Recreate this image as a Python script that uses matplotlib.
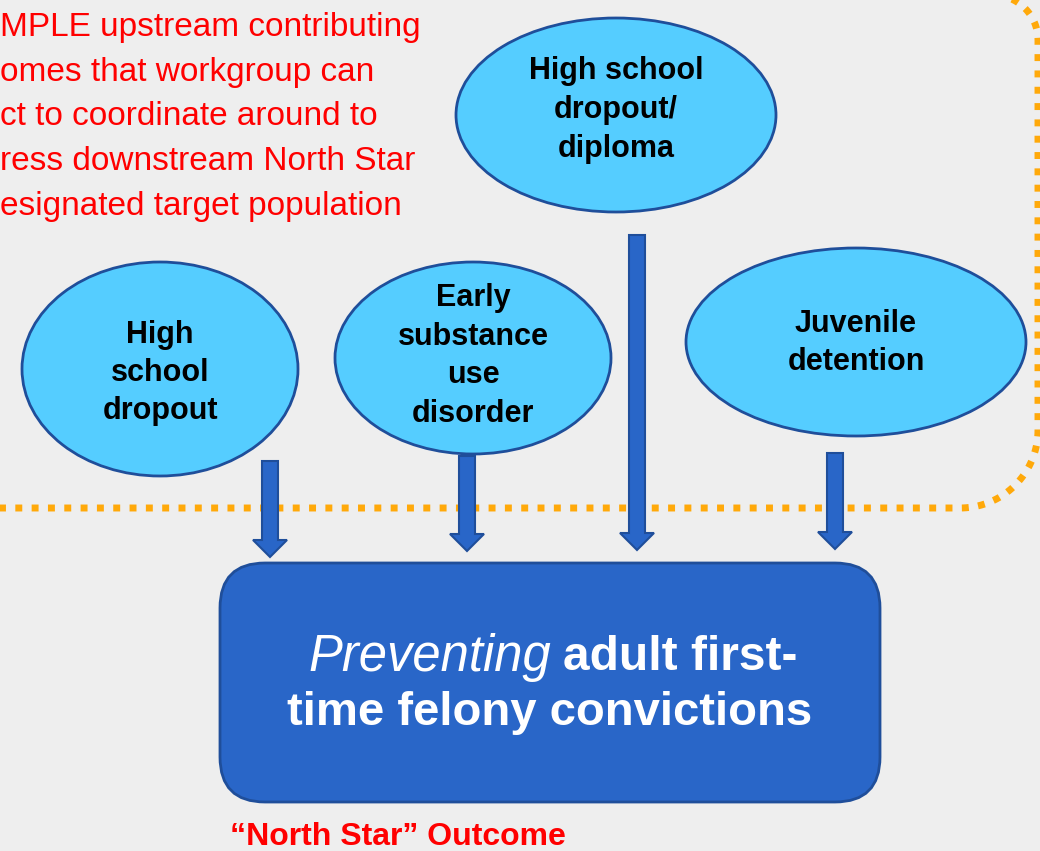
import numpy as np
import matplotlib.pyplot as plt
from matplotlib.patches import Ellipse, FancyBboxPatch, Polygon

# node labels and layout (pixel space, y grows downward)
node_labels = [["High school", "dropout/", "diploma"],
               ["High", "school", "dropout"],
               ["Early", "substance", "use", "disorder"],
               ["Juvenile", "detention"]]
node_cx = [616, 160, 473, 856]
node_cy = [115, 369, 358, 342]
node_w = [320, 276, 276, 340]
node_h = [194, 214, 192, 188]
text_cy = [110, 373, 356, 343]

arrow_x = [270, 467, 637, 835]
arrow_top = [461, 456, 235, 453]
arrow_tip = [557, 551, 550, 549]

note_lines = ["MPLE upstream contributing",
              "omes that workgroup can",
              "ct to coordinate around to",
              "ress downstream North Star",
              "esignated target population"]

bg = '#eeeeee'
light = '#55cdff'
dark_edge = '#1f4e9a'
blue = '#2966c8'
orange = '#ffa90a'
red = '#ff0000'

fig = plt.figure(figsize=(10.4, 8.51), dpi=100, facecolor=bg)
ax = fig.add_axes([0, 0, 1, 1])
ax.set_xlim(0, 1040)
ax.set_ylim(851, 0)
ax.axis('off')

# dotted orange boundary with rounded corners
t = np.linspace(0, np.pi / 2, 40)
px = [-20, 960]
py = [508, 508]
px += list(960 + 78 * np.sin(t))
py += list(430 + 78 * np.cos(t))
px += [1038]
py += [40]
px += list(993 + 45 * np.cos(t))
py += list(40 - 45 * np.sin(t))
px += [900]
py += [-5]
ax.plot(px, py, color=orange, lw=5, linestyle=(0, (1.0, 1.35)),
        dash_capstyle='butt', zorder=1)

# ellipses with labels
for i in range(len(node_labels)):
    ax.add_patch(Ellipse((node_cx[i], node_cy[i]), node_w[i], node_h[i],
                         facecolor=light, edgecolor=dark_edge, lw=2, zorder=2))
    lines = node_labels[i]
    step = 38.5
    y0 = text_cy[i] - step * (len(lines) - 1) / 2
    for j, line in enumerate(lines):
        ax.text(node_cx[i], y0 + j * step, line, ha='center', va='center',
                fontsize=22, fontweight='bold', family='Liberation Sans',
                color='black', zorder=3)

# block arrows
sw, hw, hl = 16, 34, 17
for x, top, tip in zip(arrow_x, arrow_top, arrow_tip):
    neck = tip - hl
    pts = [(x - sw / 2, top), (x + sw / 2, top), (x + sw / 2, neck),
           (x + hw / 2, neck), (x, tip), (x - hw / 2, neck), (x - sw / 2, neck)]
    ax.add_patch(Polygon(pts, closed=True, facecolor=blue,
                         edgecolor=dark_edge, lw=1.5, zorder=4))

# North Star box
ax.add_patch(FancyBboxPatch((220, 563), 660, 239,
                            boxstyle='round,pad=0,rounding_size=45',
                            facecolor=blue, edgecolor=dark_edge, lw=2, zorder=4))
ax.text(551, 657, "Preventing", ha='right', va='center', fontsize=36.5,
        style='italic', family='Liberation Sans', color='white', zorder=5)
ax.text(563, 657, "adult first-", ha='left', va='center', fontsize=34.5,
        fontweight='bold', family='Liberation Sans', color='white', zorder=5)
ax.text(550, 713, "time felony convictions", ha='center', va='center',
        fontsize=34, fontweight='bold', family='Liberation Sans',
        color='white', zorder=5)

# red notes
for i, line in enumerate(note_lines):
    ax.text(0, 36 + i * 44.7, line, ha='left', va='baseline',
            fontsize=24, family='Liberation Sans', color=red, zorder=5)
ax.text(230, 845, "\u201cNorth Star\u201d Outcome", ha='left', va='baseline',
        fontsize=23, fontweight='bold', family='Liberation Sans',
        color=red, zorder=5)

fig.savefig('out.png', dpi=100, facecolor=bg)
